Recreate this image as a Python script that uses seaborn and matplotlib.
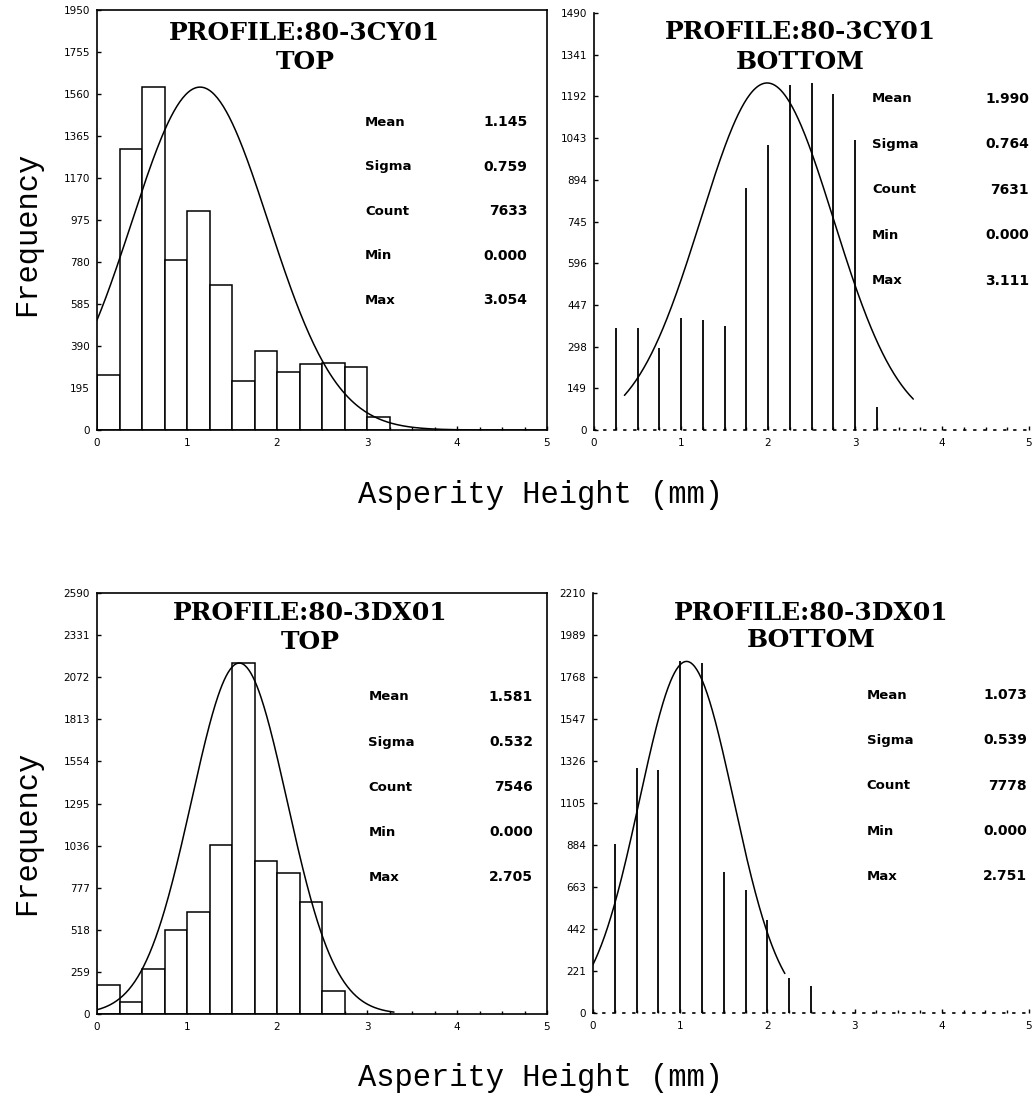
import numpy as np
import pandas as pd
import matplotlib
matplotlib.use("Agg")
import matplotlib.pyplot as plt
import seaborn as sns

# ---- data -------------------------------------------------------------
BIN_W = 0.25

# 80-3CY01, top surface: counts per 0.25 mm bin, starting at 0 mm
cy_top_counts = [254, 1305, 1592, 787, 1016, 673, 228, 369, 270, 308, 312, 294, 60]
# 80-3CY01, bottom surface: bar strokes (edge position, count)
cy_bot_edges = [0.25, 0.50, 0.75, 1.00, 1.25, 1.50, 1.75, 2.00, 2.25, 2.50, 2.75, 3.00, 3.25]
cy_bot_counts = [364, 364, 292, 399, 393, 370, 864, 1017, 1234, 1240, 1200, 1035, 81]

# 80-3DX01, top surface
dx_top_counts = [178, 76, 277, 517, 630, 1040, 2159, 942, 870, 692, 144]
# 80-3DX01, bottom surface
dx_bot_edges = [0.25, 0.50, 0.75, 1.00, 1.25, 1.50, 1.75, 2.00, 2.25, 2.50]
dx_bot_counts = [891, 1289, 1280, 1850, 1842, 740, 645, 491, 184, 140]

stat_names = ["Mean", "Sigma", "Count", "Min", "Max"]
cy_top_stats = ["1.145", "0.759", "7633", "0.000", "3.054"]
cy_bot_stats = ["1.990", "0.764", "7631", "0.000", "3.111"]
dx_top_stats = ["1.581", "0.532", "7546", "0.000", "2.705"]
dx_bot_stats = ["1.073", "0.539", "7778", "0.000", "2.751"]

y_max = [1950, 1490, 2590, 2210]
profiles = ["PROFILE:80-3CY01", "PROFILE:80-3CY01", "PROFILE:80-3DX01", "PROFILE:80-3DX01"]
surfaces = ["TOP", "BOTTOM", "TOP", "BOTTOM"]
# x-range over which the fitted normal curve is drawn
curve_span = [(0.0, 5.0), (0.35, 3.67), (0.0, 3.3), (0.0, 2.2)]

x_ticks = [0, 1, 2, 3, 4, 5]

# ---- figure -------------------------------------------------------------
sns.set_theme(style="white")
plt.rcParams["font.family"] = ["DejaVu Sans"]

W, H = 1036, 1099
fig = plt.figure(figsize=(W / 100, H / 100), dpi=100)
fig.patch.set_facecolor("white")


def rect(x0, x1, ytop, ybot):
    return [x0 / W, 1 - ybot / H, (x1 - x0) / W, (ybot - ytop) / H]


layout = [
    dict(rect=rect(97, 547, 10, 430), box=True, tx=0.462, ty=(0.945, 0.876),
         sx=(0.596, 0.956), sy0=0.733, dy=0.106),
    dict(rect=rect(594, 1029, 13, 430), box=False, tx=0.474, ty=(0.954, 0.882),
         sx=(0.639, 1.0), sy0=0.794, dy=0.109),
    dict(rect=rect(97, 547, 593, 1014), box=True, tx=0.474, ty=(0.952, 0.884),
         sx=(0.603, 0.969), sy0=0.753, dy=0.107),
    dict(rect=rect(593, 1029, 593, 1013), box=False, tx=0.5, ty=(0.952, 0.888),
         sx=(0.628, 0.995), sy0=0.757, dy=0.108),
]

hist_data = [cy_top_counts, (cy_bot_edges, cy_bot_counts),
             dx_top_counts, (dx_bot_edges, dx_bot_counts)]
stats = [cy_top_stats, cy_bot_stats, dx_top_stats, dx_bot_stats]

for i, lay in enumerate(layout):
    ax = fig.add_axes(lay["rect"])
    ax.set_facecolor("white")
    data = hist_data[i]

    if lay["box"]:
        counts = [float(c) for c in data]
        n = len(counts)
        df = pd.DataFrame({"height": [BIN_W * (k + 0.5) for k in range(n)],
                           "count": counts})
        sns.histplot(data=df, x="height", weights="count", binwidth=BIN_W,
                     binrange=(0.0, BIN_W * n), ax=ax, color="white",
                     edgecolor="black", linewidth=1.1, alpha=1)
        peak = max(counts)
    else:
        edges, counts = data
        ax.vlines(edges, 0, counts, colors="black", linewidth=1.3)
        peak = max(counts)

    # fitted normal curve from the listed Mean / Sigma, scaled to the tallest bar
    mu, sd = float(stats[i][0]), float(stats[i][1])
    lo, hi = curve_span[i]
    xs = np.linspace(lo, hi, 300)
    ys = peak * np.exp(-0.5 * ((xs - mu) / sd) ** 2)
    sns.lineplot(x=xs, y=ys, ax=ax, color="black", linewidth=1.1)

    ymax = y_max[i]
    ax.set_xlim(0, 5)
    ax.set_ylim(0, ymax)
    yt = np.linspace(0, ymax, 11)
    ax.set_yticks(yt)
    ax.set_yticklabels([str(int(round(v))) for v in yt])
    ax.set_xticks(x_ticks)
    ax.set_xticklabels([str(v) for v in x_ticks])
    ax.set_xticks(np.arange(0, 5.01, BIN_W), minor=True)
    ax.tick_params(axis="both", which="major", direction="in", length=3,
                   width=1, labelsize=7.5, color="black", labelcolor="black",
                   left=True, bottom=True)
    ax.tick_params(axis="x", which="minor", direction="in", length=2,
                   width=1, color="black", bottom=True)
    ax.tick_params(axis="y", pad=5)
    ax.tick_params(axis="x", pad=6)
    ax.set_xlabel("")
    ax.set_ylabel("")
    ax.grid(False)

    for name, sp in ax.spines.items():
        sp.set_color("black")
        sp.set_linewidth(1.2)
    if not lay["box"]:
        ax.spines["top"].set_visible(False)
        ax.spines["right"].set_visible(False)
        ax.spines["bottom"].set_linestyle((0, (1, 5)))

    # title
    ax.text(lay["tx"], lay["ty"][0], profiles[i], transform=ax.transAxes,
            ha="center", va="center", fontsize=18, fontweight="bold",
            family="DejaVu Serif", color="black")
    ax.text(lay["tx"], lay["ty"][1], surfaces[i], transform=ax.transAxes,
            ha="center", va="center", fontsize=18, fontweight="bold",
            family="DejaVu Serif", color="black")

    # summary statistics
    for k, (nm, val) in enumerate(zip(stat_names, stats[i])):
        yy = lay["sy0"] - k * lay["dy"]
        ax.text(lay["sx"][0], yy, nm, transform=ax.transAxes, ha="left",
                va="center", fontsize=9.5, fontweight="bold", color="black")
        ax.text(lay["sx"][1], yy, val, transform=ax.transAxes, ha="right",
                va="center", fontsize=10, fontweight="bold", color="black",
                clip_on=False)

# shared axis labels
for yc in (234, 833):
    fig.text(27 / W, 1 - yc / H, "Frequency", rotation=90, ha="center",
             va="center", fontsize=22, family="Liberation Mono", color="black")
for yc in (495, 1078):
    fig.text(541 / W, 1 - yc / H, "Asperity Height (mm)", ha="center",
             va="center", fontsize=22, family="Liberation Mono", color="black")

fig.savefig("out.png", dpi=100, facecolor="white")
